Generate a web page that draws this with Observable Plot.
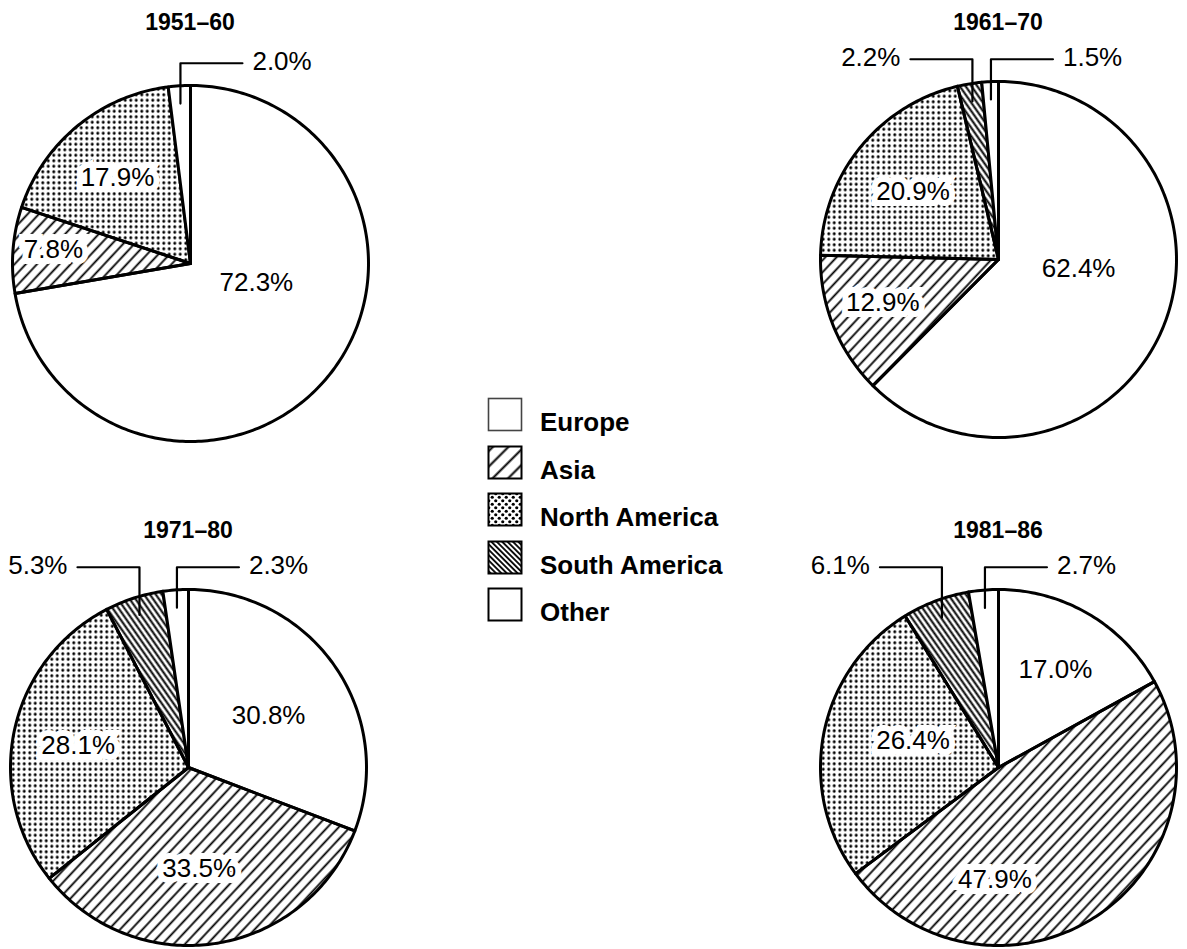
<!DOCTYPE html>
<html>
<head>
<meta charset="utf-8">
<script src="https://cdn.jsdelivr.net/npm/d3@7"></script>
<script src="https://cdn.jsdelivr.net/npm/@observablehq/plot@0.6"></script>
<style>
  html, body { margin: 0; padding: 0; background: #fff; }
  #page { position: relative; width: 1187px; height: 949px; overflow: hidden;
          font-family: "Liberation Sans", Arial, Helvetica, sans-serif; color: #000; }
  .pie { position: absolute; width: 400px; height: 420px; }
  .title { position: absolute; font-weight: bold; font-size: 23px; line-height: 1;
           transform: translate(-50%, -50%); white-space: nowrap; }
  .leg-box { position: absolute; }
  .leg-text { position: absolute; font-weight: bold; font-size: 26px; line-height: 1;
              transform: translateY(-50%); white-space: nowrap; }
</style>
</head>
<body>
<svg width="0" height="0" style="position:absolute">
  <defs>
    <pattern id="pAsia" patternUnits="userSpaceOnUse" width="8.2" height="8.2" patternTransform="rotate(43)">
      <line x1="4.1" y1="-1" x2="4.1" y2="10" stroke="#000" stroke-width="1.8"/>
    </pattern>
    <pattern id="pNA" patternUnits="userSpaceOnUse" width="5.5" height="5.5">
      <circle cx="2.75" cy="2.75" r="1.5" fill="#000"/>
    </pattern>
    <pattern id="pSA" patternUnits="userSpaceOnUse" width="4.8" height="4.8" patternTransform="rotate(-35)">
      <line x1="2.4" y1="-1" x2="2.4" y2="6" stroke="#000" stroke-width="2"/>
    </pattern>
    <pattern id="lAsia" patternUnits="userSpaceOnUse" width="11" height="11" patternTransform="rotate(45)">
      <line x1="5.5" y1="-1" x2="5.5" y2="12" stroke="#000" stroke-width="2"/>
    </pattern>
    <pattern id="lNA" patternUnits="userSpaceOnUse" width="7" height="7">
      <circle cx="1.75" cy="1.75" r="1.6" fill="#000"/>
      <circle cx="5.25" cy="5.25" r="1.6" fill="#000"/>
    </pattern>
    <pattern id="lSA" patternUnits="userSpaceOnUse" width="3.8" height="3.8" patternTransform="rotate(-45)">
      <line x1="1.9" y1="-1" x2="1.9" y2="5" stroke="#000" stroke-width="1.8"/>
    </pattern>
  </defs>
</svg>
<div id="page"></div>
<script>
// ---------------- data ----------------
const periods = ["1951–60", "1961–70", "1971–80", "1981–86"];
const regions = ["Europe", "Asia", "North America", "South America", "Other"];
const europe       = [72.3, 62.4, 30.8, 17.0];
const asia         = [7.8, 12.9, 33.5, 47.9];
const northAmerica = [17.9, 20.9, 28.1, 26.4];
const southAmerica = [0, 2.2, 5.3, 6.1];
const other        = [2.0, 1.5, 2.3, 2.7];

// ---------------- layout / style ----------------
const seriesByRegion = {
  "Europe": europe, "Asia": asia, "North America": northAmerica,
  "South America": southAmerica, "Other": other
};
const pieFill = {
  "Europe": "white", "Asia": "url(#pAsia)", "North America": "url(#pNA)",
  "South America": "url(#pSA)", "Other": "white"
};
const legendFill = {
  "Europe": "white", "Asia": "url(#lAsia)", "North America": "url(#lNA)",
  "South America": "url(#lSA)", "Other": "white"
};
const R = 178;                 // pie radius in px
const SVG_W = 400, SVG_H = 420, OX = 200, OY = 232;   // pie centre inside each svg
const pieCentres = [[190, 263], [998, 259], [188, 767], [998, 767]];
const titleY = [22, 22, 530, 530];
// label anchors inside slices (unit-circle coordinates, y up)
const labelAt = [
  {"Europe": [0.37, -0.11], "Asia": [-0.77, 0.08], "North America": [-0.41, 0.48]},
  {"Europe": [0.45, -0.05], "Asia": [-0.65, -0.24], "North America": [-0.48, 0.38]},
  {"Europe": [0.45, 0.29], "Asia": [0.06, -0.57], "North America": [-0.62, 0.12]},
  {"Europe": [0.32, 0.55], "Asia": [-0.02, -0.63], "North America": [-0.48, 0.15]}
];
const leaderSide = {"Other": 1, "South America": -1};
const leaderTop = 1.125, leaderIn = 0.9, leaderLen = 62 / R, leaderGap = 10 / R;

const fmt = v => v.toFixed(1) + "%";

function wedge(a0, a1) {
  const pts = [[0, 0]];
  const n = Math.max(2, Math.ceil((a1 - a0) / (Math.PI / 180)));
  for (let i = 0; i <= n; i++) {
    const a = a0 + (a1 - a0) * i / n;
    pts.push([Math.sin(a), Math.cos(a)]);
  }
  pts.push([0, 0]);
  return {type: "Polygon", coordinates: [pts]};
}

const page = document.getElementById("page");

periods.forEach((period, pi) => {
  const rows = regions.map(region => ({region, value: seriesByRegion[region][pi]}));
  const arcs = d3.pie().sort(null).value(d => d.value)(rows);

  const slices = [], inner = [], leaders = [], leaderLabels = [];
  arcs.forEach(a => {
    const region = a.data.region;
    if (a.data.value <= 0) return;
    slices.push({region, geometry: wedge(a.startAngle, a.endAngle)});
    if (labelAt[pi][region]) {
      const [x, y] = labelAt[pi][region];
      inner.push({x, y, text: fmt(a.data.value)});
    } else if (leaderSide[region]) {
      const side = leaderSide[region];
      const mid = (a.startAngle + a.endAngle) / 2;
      const x0 = Math.sin(mid) * leaderIn, y0 = Math.cos(mid) * leaderIn;
      const x1 = x0 + side * leaderLen;
      leaders.push({type: "LineString", coordinates: [[x0, y0], [x0, leaderTop], [x1, leaderTop]]});
      leaderLabels.push({x: x1 + side * leaderGap, y: leaderTop + 0.01, text: fmt(a.data.value),
                         anchor: side > 0 ? "start" : "end"});
    }
  });

  const projection = d3.geoIdentity().reflectY(true).scale(R).translate([OX, OY]);

  const chart = Plot.plot({
    width: SVG_W, height: SVG_H, margin: 0,
    projection,
    color: {type: "identity"},
    style: {background: "transparent", overflow: "visible",
            fontFamily: "Liberation Sans, Arial, Helvetica, sans-serif"},
    marks: [
      Plot.geo(slices, {geometry: "geometry", fill: d => pieFill[d.region],
                        stroke: "black", strokeWidth: 3, strokeLinejoin: "round"}),
      Plot.geo(leaders, {fill: "none", stroke: "black", strokeWidth: 2.2}),
      Plot.text(inner, {x: "x", y: "y", text: "text", fontSize: 26, fill: "black",
                        stroke: "white", strokeWidth: 12, strokeLinejoin: "miter"}),
      Plot.text(leaderLabels.filter(d => d.anchor === "start"),
                {x: "x", y: "y", text: "text", fontSize: 26, fill: "black", textAnchor: "start"}),
      Plot.text(leaderLabels.filter(d => d.anchor === "end"),
                {x: "x", y: "y", text: "text", fontSize: 26, fill: "black", textAnchor: "end"})
    ]
  });

  const [cx, cy] = pieCentres[pi];
  const holder = document.createElement("div");
  holder.className = "pie";
  holder.style.left = (cx - OX) + "px";
  holder.style.top = (cy - OY) + "px";
  holder.appendChild(chart);
  page.appendChild(holder);

  const t = document.createElement("div");
  t.className = "title";
  t.textContent = period;
  t.style.left = cx + "px";
  t.style.top = titleY[pi] + "px";
  page.appendChild(t);
});

// ---------------- legend ----------------
const legX = 488, legY = 398, legStep = 47.5, boxW = 34, boxH = 33;
regions.forEach((region, i) => {
  const y = legY + i * legStep;
  const box = document.createElementNS("http://www.w3.org/2000/svg", "svg");
  box.setAttribute("width", boxW + 2);
  box.setAttribute("height", boxH + 2);
  box.setAttribute("class", "leg-box");
  box.style.left = (legX - 1) + "px";
  box.style.top = (y - 1) + "px";
  const r = document.createElementNS("http://www.w3.org/2000/svg", "rect");
  r.setAttribute("x", 1.5); r.setAttribute("y", 1.5);
  r.setAttribute("width", boxW - 1); r.setAttribute("height", boxH - 1);
  r.setAttribute("fill", legendFill[region]);
  r.setAttribute("stroke", region === "Europe" ? "#444" : "#000");
  r.setAttribute("stroke-width", region === "Europe" ? 1.6 : 2);
  box.appendChild(r);
  page.appendChild(box);
  const t = document.createElement("div");
  t.className = "leg-text";
  t.textContent = region;
  t.style.left = "540px";
  t.style.top = (y + 24) + "px";
  page.appendChild(t);
});
</script>
</body>
</html>
